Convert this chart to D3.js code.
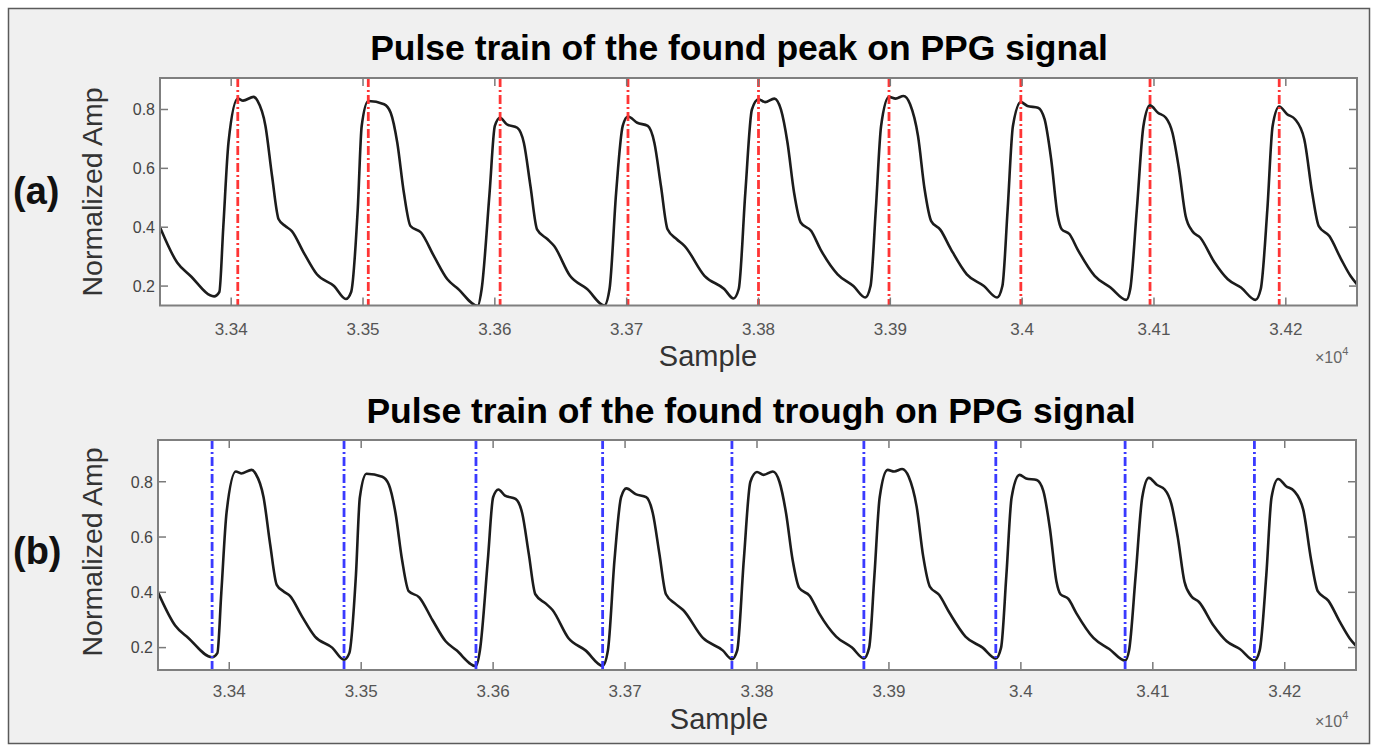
<!DOCTYPE html>
<html>
<head>
<meta charset="utf-8">
<script src="https://cdn.jsdelivr.net/npm/d3@7/dist/d3.min.js"></script>
<style>
    body { margin: 0; background: #fff; }
    text { font-family: "Liberation Sans", Arial, sans-serif; }
</style>
</head>
<body>
<div id="chart"></div>
<script>
// PPG samples (sample index, normalized amplitude)
var sampleIdx = [
    33346, 33359, 33369, 33387, 33391, 33394, 33398, 33405, 33409, 33417, 33420, 33426, 33431, 33436, 33441, 33446, 33455, 33465, 33478,
    33487, 33491, 33496, 33499, 33504, 33516, 33521, 33526, 33531, 33536, 33544, 33554, 33564, 33572,
    33587, 33590, 33596, 33600, 33604, 33609, 33617, 33622, 33627, 33632, 33640, 33645, 33657, 33670,
    33683, 33687, 33692, 33697, 33701, 33708, 33716, 33721, 33726, 33731, 33738, 33744, 33759, 33774,
    33781, 33785, 33790, 33795, 33800, 33805, 33812, 33817, 33822, 33827, 33832, 33840, 33847, 33860, 33872,
    33881, 33885, 33889, 33893, 33899, 33904, 33910, 33915, 33921, 33926, 33931, 33938, 33946, 33958, 33971,
    33981, 33985, 33989, 33993, 33999, 34004, 34012, 34017, 34022, 34027, 34030, 34036, 34042, 34055, 34067,
    34079, 34082, 34087, 34092, 34097, 34103, 34109, 34114, 34119, 34124, 34129, 34135, 34146, 34156, 34166,
    34177, 34181, 34186, 34190, 34195, 34201, 34207, 34214, 34220, 34225, 34233, 34242, 34249, 34254
];
var amplitude = [
    0.400, 0.280, 0.235, 0.165, 0.180, 0.400, 0.690, 0.837, 0.830, 0.843, 0.829, 0.744, 0.574, 0.427, 0.404, 0.387, 0.314, 0.240, 0.200,
    0.156, 0.180, 0.461, 0.744, 0.829, 0.818, 0.789, 0.687, 0.517, 0.404, 0.382, 0.300, 0.223, 0.191,
    0.133, 0.190, 0.517, 0.744, 0.772, 0.750, 0.738, 0.687, 0.540, 0.393, 0.359, 0.336, 0.235, 0.190,
    0.134, 0.190, 0.517, 0.744, 0.776, 0.755, 0.744, 0.687, 0.540, 0.393, 0.359, 0.336, 0.235, 0.190,
    0.158, 0.190, 0.517, 0.800, 0.835, 0.825, 0.837, 0.800, 0.687, 0.517, 0.416, 0.387, 0.325, 0.240, 0.200,
    0.161, 0.200, 0.461, 0.744, 0.843, 0.837, 0.846, 0.818, 0.710, 0.529, 0.421, 0.391, 0.325, 0.240, 0.200,
    0.161, 0.200, 0.461, 0.744, 0.825, 0.812, 0.806, 0.767, 0.631, 0.438, 0.393, 0.376, 0.325, 0.235, 0.195,
    0.153, 0.190, 0.461, 0.744, 0.814, 0.789, 0.772, 0.721, 0.597, 0.438, 0.387, 0.365, 0.280, 0.223, 0.195,
    0.153, 0.190, 0.461, 0.744, 0.810, 0.784, 0.767, 0.699, 0.517, 0.404, 0.370, 0.291, 0.235, 0.206
];

var peakSamples = [33405, 33504, 33604, 33701, 33800, 33899, 33999, 34097, 34195];
var troughSamples = [33387, 33487, 33587, 33683, 33781, 33881, 33981, 34079, 34177];

var xTicks = [33400, 33500, 33600, 33700, 33800, 33900, 34000, 34100, 34200];
var xTickLabels = ["3.34", "3.35", "3.36", "3.37", "3.38", "3.39", "3.4", "3.41", "3.42"];
var yTicks = [0.2, 0.4, 0.6, 0.8];
var yTickLabels = ["0.2", "0.4", "0.6", "0.8"];

var panelTitles = ["Pulse train of the found peak on PPG signal", "Pulse train of the found trough on PPG signal"];
var panelTags = ["(a)", "(b)"];

var width = 1380,
    height = 745;

var signal = sampleIdx.map(function(s, i) { return { x: s, y: amplitude[i] }; });

var svg = d3.select("#chart").append("svg")
    .attr("width", width)
    .attr("height", height);

svg.append("rect")
    .attr("x", 8.5).attr("y", 8.5)
    .attr("width", 1361).attr("height", 735)
    .attr("fill", "#f0f0f0")
    .attr("stroke", "#5a5a5a")
    .attr("stroke-width", 1.5);

var panels = [
    { left: 160, right: 1357, top: 78, bottom: 305.5, yDomain: [0.134, 0.907], titleX: 739, titleY: 60,
      tagY: 204, ylabelY: 192, xlabelX: 708, xlabelY: 366, tickLabelY: 335, expY: 363,
      markers: peakSamples, markColor: "#ff3535" },
    { left: 158, right: 1356, top: 440, bottom: 670, yDomain: [0.119, 0.951], titleX: 751, titleY: 423,
      tagY: 564, ylabelY: 552, xlabelX: 719, xlabelY: 729, tickLabelY: 697, expY: 727,
      markers: troughSamples, markColor: "#3a3aff" }
];

panels.forEach(function(p, k) {
    var x = d3.scaleLinear().domain([33346, 34254]).range([p.left, p.right]);
    var y = d3.scaleLinear().domain(p.yDomain).range([p.bottom, p.top]);
    var tickLen = 8;

    svg.append("text")
        .attr("x", p.titleX).attr("y", p.titleY)
        .attr("text-anchor", "middle")
        .attr("font-size", 35.5).attr("font-weight", "bold")
        .attr("fill", "#000")
        .text(panelTitles[k]);

    svg.append("text")
        .attr("x", 13).attr("y", p.tagY)
        .attr("font-size", 38).attr("font-weight", "bold")
        .attr("fill", "#111")
        .text(panelTags[k]);

    svg.append("rect")
        .attr("x", p.left).attr("y", p.top)
        .attr("width", p.right - p.left).attr("height", p.bottom - p.top)
        .attr("fill", "#fff");

    var clipId = "clip" + k;
    svg.append("clipPath").attr("id", clipId)
        .append("rect")
        .attr("x", p.left).attr("y", p.top)
        .attr("width", p.right - p.left).attr("height", p.bottom - p.top);

    var line = d3.line()
        .x(function(d) { return x(d.x); })
        .y(function(d) { return y(d.y); })
        .curve(d3.curveMonotoneX);

    var g = svg.append("g").attr("clip-path", "url(#" + clipId + ")");

    g.append("path")
        .datum(signal)
        .attr("d", line)
        .attr("fill", "none")
        .attr("stroke", "#1c1c1c")
        .attr("stroke-width", 2.6)
        .attr("stroke-linejoin", "round");

    g.selectAll("line.mark")
        .data(p.markers)
        .enter().append("line")
        .attr("class", "mark")
        .attr("x1", function(d) { return x(d); })
        .attr("x2", function(d) { return x(d); })
        .attr("y1", p.top)
        .attr("y2", p.bottom)
        .attr("stroke", p.markColor)
        .attr("stroke-width", 2.8)
        .attr("stroke-dasharray", "9,3,2,3");

    // inward ticks on all four sides, matlab style
    var ticks = svg.append("g")
        .attr("stroke", "#7a7a7a")
        .attr("stroke-width", 1.5);
    xTicks.forEach(function(t) {
        ticks.append("line").attr("x1", x(t)).attr("x2", x(t)).attr("y1", p.bottom).attr("y2", p.bottom - tickLen);
        ticks.append("line").attr("x1", x(t)).attr("x2", x(t)).attr("y1", p.top).attr("y2", p.top + tickLen);
    });
    yTicks.forEach(function(t) {
        ticks.append("line").attr("x1", p.left).attr("x2", p.left + tickLen).attr("y1", y(t)).attr("y2", y(t));
        ticks.append("line").attr("x1", p.right).attr("x2", p.right - tickLen).attr("y1", y(t)).attr("y2", y(t));
    });

    svg.append("rect")
        .attr("x", p.left).attr("y", p.top)
        .attr("width", p.right - p.left).attr("height", p.bottom - p.top)
        .attr("fill", "none")
        .attr("stroke", "#7f7f7f")
        .attr("stroke-width", 2);

    svg.selectAll("text.xt" + k)
        .data(xTicks)
        .enter().append("text")
        .attr("class", "xt" + k)
        .attr("x", function(d) { return x(d); })
        .attr("y", p.tickLabelY)
        .attr("text-anchor", "middle")
        .attr("font-size", 17)
        .attr("fill", "#555")
        .text(function(d, i) { return xTickLabels[i]; });

    svg.selectAll("text.yt" + k)
        .data(yTicks)
        .enter().append("text")
        .attr("class", "yt" + k)
        .attr("x", p.left - 5)
        .attr("y", function(d) { return y(d); })
        .attr("dy", "0.36em")
        .attr("text-anchor", "end")
        .attr("font-size", 16)
        .attr("fill", "#444")
        .text(function(d, i) { return yTickLabels[i]; });

    svg.append("text")
        .attr("x", p.xlabelX).attr("y", p.xlabelY)
        .attr("text-anchor", "middle")
        .attr("font-size", 29)
        .attr("fill", "#333")
        .text("Sample");

    svg.append("text")
        .attr("transform", "translate(102," + p.ylabelY + ")rotate(-90)")
        .attr("text-anchor", "middle")
        .attr("font-size", 28.5)
        .attr("fill", "#333")
        .text("Normalized Amp");

    var ex = svg.append("text")
        .attr("x", 1315).attr("y", p.expY)
        .attr("font-size", 16)
        .attr("fill", "#666");
    ex.append("tspan").text("\u00d710");
    ex.append("tspan").attr("dy", -8).attr("font-size", 11).text("4");
});
</script>
</body>
</html>
